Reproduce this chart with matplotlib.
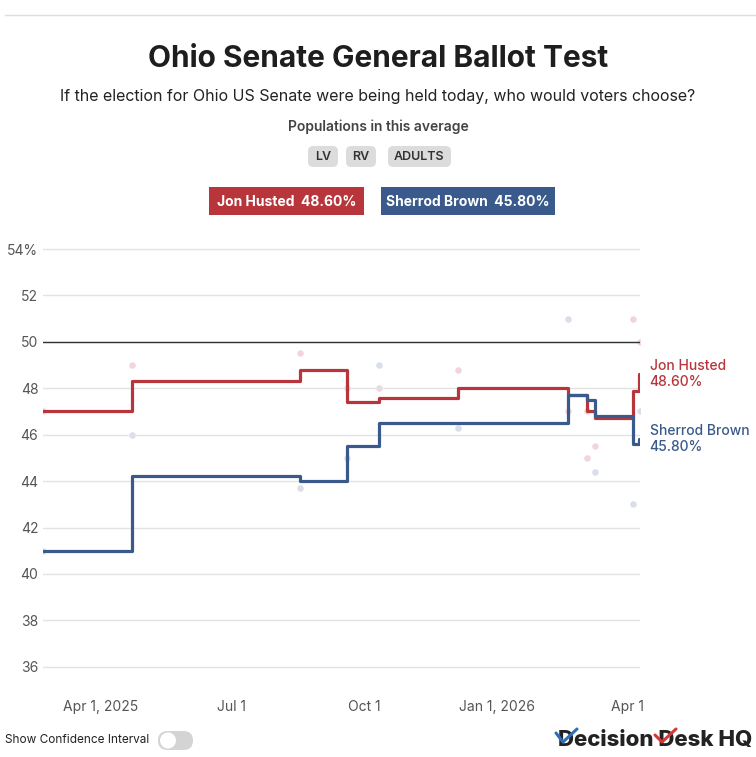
import pandas as pd
import matplotlib.pyplot as plt
from matplotlib.patches import FancyBboxPatch
from matplotlib.lines import Line2D

plt.rcParams['font.family'] = ['Inter', 'DejaVu Sans']

# polling average (step changes)
avg_dates = pd.to_datetime(['2025-02-20', '2025-04-23', '2025-08-17', '2025-09-19',
                            '2025-10-11', '2025-12-05', '2026-02-19', '2026-03-04',
                            '2026-03-10', '2026-04-05', '2026-04-09', '2026-04-10'])
husted = [47.0, 48.3, 48.8, 47.4, 47.6, 48.0, 47.7, 47.0, 46.7, 47.9, 48.6, 48.6]
brown = [41.0, 44.2, 44.0, 45.5, 46.5, 46.5, 47.7, 47.5, 46.8, 45.6, 45.8, 45.8]

# individual polls (faint dots)
husted_poll_dates = pd.to_datetime(['2025-02-20', '2025-04-23', '2025-08-17', '2025-09-19',
                                    '2025-10-11', '2025-12-05', '2026-02-19', '2026-03-04',
                                    '2026-03-04', '2026-03-10', '2026-04-05', '2026-04-10'])
husted_polls = [47.0, 49.0, 49.5, 48.0, 48.0, 48.8, 47.0, 47.0, 45.0, 45.5, 51.0, 50.0]
brown_poll_dates = pd.to_datetime(['2025-02-20', '2025-04-23', '2025-08-17', '2025-09-19',
                                   '2025-10-11', '2025-12-05', '2026-02-19', '2026-03-10',
                                   '2026-04-05', '2026-04-10'])
brown_polls = [41.0, 46.0, 43.7, 45.0, 49.0, 46.3, 51.0, 44.4, 43.0, 47.0]

yticks = [36, 38, 40, 42, 44, 46, 48, 50, 52, 54]
xtick_dates = pd.to_datetime(['2025-04-01', '2025-07-01', '2025-10-01', '2026-01-01', '2026-04-01'])
xtick_labels = ['Apr 1, 2025', 'Jul 1', 'Oct 1', 'Jan 1, 2026', 'Apr 1']
populations = ['LV', 'RV', 'ADULTS']

RED = '#b8363b'
BLUE = '#395a8b'

W, H = 756, 757
fig = plt.figure(figsize=(W / 100, H / 100), dpi=100)


def fx(px):
    return px / W


def fy(py):
    return 1 - py / H


# top rule
fig.add_artist(Line2D([fx(5), fx(756)], [fy(15), fy(15)], color='#dddddd', lw=1))

fig.text(0.5, fy(59), 'Ohio Senate General Ballot Test', ha='center', va='center',
         fontsize=21.5, fontweight='bold', color='#1e1e1e')
fig.text(0.5, fy(97), 'If the election for Ohio US Senate were being held today, who would voters choose?',
         ha='center', va='center', fontsize=11.5, color='#222222')
fig.text(0.5, fy(126.5), 'Populations in this average', ha='center', va='center',
         fontsize=10, fontweight='semibold', color='#444444')

# population badges
badge_x = [(308, 338), (346, 376), (388, 451)]
for (x0, x1), lab in zip(badge_x, populations):
    fig.add_artist(FancyBboxPatch((fx(x0), fy(167)), fx(x1 - x0), (167 - 146) / H,
                                  boxstyle='round,pad=0,rounding_size=0.007',
                                  fc='#dcdcdc', ec='none', transform=fig.transFigure))
    fig.text(fx((x0 + x1) / 2), fy(156.5), lab, ha='center', va='center',
             fontsize=9, fontweight='semibold', color='#333333')

# legend boxes
for (x0, x1), name, vals, col in [((209, 364), 'Jon Husted', husted, RED),
                                  ((381, 555), 'Sherrod Brown', brown, BLUE)]:
    fig.add_artist(plt.Rectangle((fx(x0), fy(215)), fx(x1 - x0), (215 - 187) / H,
                                 fc=col, ec='none', transform=fig.transFigure))
    fig.text(fx((x0 + x1) / 2), fy(201.5), f'{name}  {vals[-1]:.2f}%', ha='center', va='center',
             fontsize=10, fontweight='bold', color='white')

# main chart
ax = fig.add_axes([fx(43), fy(690), fx(640 - 43), (690 - 237.4) / H])
ax.scatter(husted_poll_dates, husted_polls, s=22, color='#f2d5d9', zorder=1, lw=0)
ax.scatter(brown_poll_dates, brown_polls, s=22, color='#d8deea', zorder=1, lw=0)
ax.plot(avg_dates, husted, drawstyle='steps-post', color=RED, lw=2.3, zorder=3)
ax.plot(avg_dates, brown, drawstyle='steps-post', color=BLUE, lw=2.3, zorder=4)
ax.axhline(50, color='#333333', lw=1, zorder=2)

ax.set_xlim(pd.Timestamp('2025-02-20'), pd.Timestamp('2026-04-10'))
ax.set_ylim(35, 54.5)
ax.set_yticks(yticks)
ax.set_yticklabels([f'{t}%' if t == yticks[-1] else str(t) for t in yticks])
ax.set_xticks(xtick_dates)
ax.set_xticklabels(xtick_labels)
ax.grid(axis='y', color='#e3e3e3', lw=1, zorder=0)
ax.tick_params(axis='both', length=0, labelsize=10, labelcolor='#555555')
ax.tick_params(axis='x', pad=7.5)
ax.tick_params(axis='y', pad=3.5)
for s in ax.spines.values():
    s.set_visible(False)

ax.annotate(f'Jon Husted\n{husted[-1]:.2f}%', xy=(avg_dates[-1], husted[-1]), xytext=(7, 0),
            textcoords='offset points', ha='left', va='center', fontsize=10,
            fontweight='medium', color=RED, linespacing=1.2, annotation_clip=False)
ax.annotate(f'Sherrod Brown\n{brown[-1]:.2f}%', xy=(avg_dates[-1], brown[-1]), xytext=(7, 0),
            textcoords='offset points', ha='left', va='center', fontsize=10,
            fontweight='medium', color=BLUE, linespacing=1.2, annotation_clip=False)

# footer: toggle + logo
fig.text(fx(5), fy(740), 'Show Confidence Interval', ha='left', va='center',
         fontsize=8.5, color='#222222')
fig.add_artist(FancyBboxPatch((fx(158), fy(750)), fx(35), 19 / H,
                              boxstyle='round,pad=0,rounding_size=0.0125',
                              fc='#d4d4d4', ec='none', transform=fig.transFigure))
fig.add_artist(plt.Circle((fx(168), fy(740.5)), fx(8), fc='white', ec='none',
                          transform=fig.transFigure))
fig.text(fx(752), fy(740), 'Decision Desk HQ', ha='right', va='center',
         fontsize=16, fontweight='heavy', color='#222222')
fig.add_artist(Line2D([fx(556), fx(563), fx(577)], [fy(733), fy(742), fy(729)],
                      color='#2f6fb6', lw=2.2, solid_capstyle='round', zorder=5))
fig.add_artist(Line2D([fx(655), fx(662), fx(676)], [fy(735), fy(742), fy(729)],
                      color='#d23a3a', lw=2.2, solid_capstyle='round', zorder=5))

fig.savefig('out.png', dpi=100, facecolor='white')
